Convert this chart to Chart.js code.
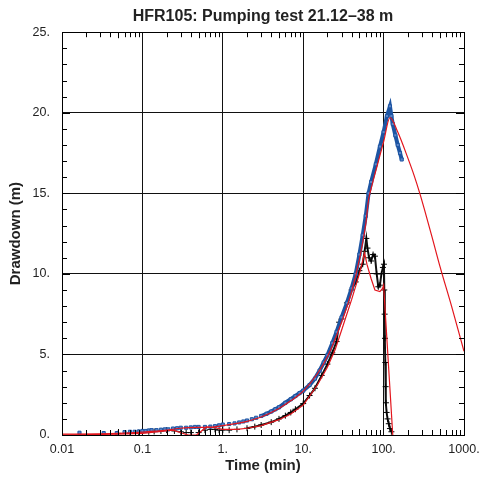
<!DOCTYPE html>
<html>
<head>
<meta charset="utf-8">
<script src="https://cdn.jsdelivr.net/npm/chart.js@4.4.1/dist/chart.umd.min.js"></script>
<style>
  html, body { margin: 0; padding: 0; background: #fff; }
  #wrap { width: 479px; height: 479px; }
</style>
</head>
<body>
<div id="wrap"><canvas id="hfrChart"></canvas></div>
<script>
// pumping test data (time in min, drawdown in m)
const blueTime = [0.0165, 0.033, 0.048, 0.06, 0.07, 0.08, 0.09, 0.1, 0.11, 0.12, 0.13, 0.15, 0.17, 0.19, 0.21, 0.24, 0.27, 0.3, 0.35, 0.4, 0.45, 0.5, 0.6, 0.7, 0.8, 0.9, 1.0, 1.2, 1.4, 1.6, 1.8, 2.0, 2.3, 2.6, 3.0, 3.5, 4.0, 4.5, 5, 6, 7, 8, 9, 10, 12, 14, 16, 18, 20, 23, 26, 30, 35, 40, 45, 50, 55, 60, 65, 70, 80, 90, 100, 110, 120, 125, 130, 140, 150, 160, 168];
const blueDrawdown = [0.14, 0.12, 0.12, 0.18, 0.2, 0.2, 0.22, 0.25, 0.25, 0.28, 0.3, 0.3, 0.33, 0.35, 0.35, 0.4, 0.42, 0.45, 0.45, 0.47, 0.5, 0.5, 0.5, 0.52, 0.55, 0.6, 0.65, 0.68, 0.72, 0.78, 0.84, 0.9, 0.98, 1.07, 1.18, 1.32, 1.46, 1.6, 1.72, 2.0, 2.22, 2.42, 2.6, 2.75, 3.1, 3.5, 4.0, 4.5, 4.95, 5.7, 6.4, 7.3, 8.2, 9.1, 10.0, 11.2, 12.4, 13.6, 15.0, 15.7, 16.8, 17.9, 18.8, 19.8, 20.4, 19.8, 19.3, 18.6, 18.0, 17.5, 17.1];

const blackTime = [0.05, 0.07, 0.09, 0.1, 0.12, 0.14, 0.17, 0.2, 0.25, 0.3, 0.35, 0.4, 0.5, 0.6, 0.7, 0.8, 0.9, 1.0, 1.2, 1.5, 2, 2.5, 3, 4, 5, 6, 7, 8, 10, 12, 14, 17, 20, 23, 26, 28, 30, 35, 40, 45, 50, 55, 58, 61, 63, 66, 70, 74, 78, 82, 86, 90, 94, 98, 101, 102, 103, 104, 105, 106, 107, 109, 112, 116, 120, 125];
const blackDrawdown = [0.1, 0.12, 0.15, 0.2, 0.2, 0.22, 0.25, 0.3, 0.25, 0.2, 0.15, 0.15, 0.15, 0.3, 0.35, 0.35, 0.3, 0.3, 0.3, 0.35, 0.42, 0.52, 0.62, 0.8, 1.0, 1.2, 1.4, 1.6, 1.95, 2.45, 2.9, 3.7, 4.4, 5.1, 5.8, 7.0, 7.2, 8.2, 9.0, 9.5, 10.2, 10.6, 11.4, 12.2, 11.6, 11.0, 10.8, 11.2, 11.1, 10.0, 9.2, 9.3, 10.0, 10.4, 10.6, 9.0, 7.5, 6.0, 4.5, 3.0, 2.0, 1.4, 1.0, 0.7, 0.4, 0.2];

const fitATime = [0.01, 0.03, 0.05, 0.1, 0.2, 0.3, 0.5, 0.7, 1, 1.5, 2, 3, 5, 7, 10, 15, 20, 30, 40, 50, 60, 65, 70, 80, 100, 120, 150, 200, 240, 282, 320, 400, 500, 700, 1000];
const fitAValues = [0.05, 0.07, 0.1, 0.18, 0.3, 0.42, 0.47, 0.48, 0.58, 0.72, 0.85, 1.12, 1.65, 2.12, 2.72, 3.8, 4.85, 7.0, 8.9, 10.9, 13.1, 14.6, 15.3, 16.4, 18.2, 19.7, 18.8, 17.2, 16.1, 15.0, 14.05, 12.3, 10.5, 8.0, 5.2];

const fitBTime = [0.01, 0.05, 0.1, 0.24, 0.37, 0.47, 0.63, 0.8, 1, 1.5, 2, 3, 5, 7, 10, 15, 20, 25, 30, 40, 50, 58, 62, 70, 78, 90, 97, 100, 130];
const fitBValues = [0.0, 0.05, 0.1, 0.3, 0.0, 0.0, 0.5, 0.45, 0.35, 0.35, 0.42, 0.58, 0.95, 1.3, 1.85, 3.1, 4.2, 5.3, 6.5, 8.4, 10.0, 11.3, 10.6, 9.7, 9.0, 8.9, 9.1, 9.3, 0.0];

const xTickValues = [0.01, 0.1, 1, 10, 100, 1000];
const xTickLabels = ['0.01', '0.1', '1.', '10.', '100.', '1000.'];
const yTickLabels = ['0.', '5.', '10.', '15.', '20.', '25.'];

const toPoints = (xs, ys) => xs.map((x, i) => ({ x: x, y: ys[i] }));

const red = '#e3161d';
const blue = '#1d55a3';

// inward minor ticks and the plot frame
const frameTicks = {
  id: 'frameTicks',
  afterDraw(chart) {
    const { ctx, chartArea: a, scales: { x, y } } = chart;
    ctx.save();
    ctx.strokeStyle = '#000';
    ctx.lineWidth = 1;
    ctx.beginPath();
    for (let d = 0.01; d < 1000; d *= 10) {
      for (let k = 2; k <= 9; k++) {
        const px = Math.round(x.getPixelForValue(k * d)) + 0.5;
        const len = k === 5 ? 6 : 5;
        ctx.moveTo(px, a.bottom); ctx.lineTo(px, a.bottom - len);
        ctx.moveTo(px, a.top); ctx.lineTo(px, a.top + len);
      }
    }
    for (let v = 1; v < 25; v++) {
      const py = Math.round(y.getPixelForValue(v)) + 0.5;
      const len = v % 5 === 0 ? 8 : 5;
      ctx.moveTo(a.left, py); ctx.lineTo(a.left + len, py);
      ctx.moveTo(a.right, py); ctx.lineTo(a.right - len, py);
    }
    ctx.stroke();
    ctx.strokeRect(Math.round(a.left) + 0.5, Math.round(a.top) + 0.5,
      Math.round(a.right - a.left), Math.round(a.bottom - a.top));
    ctx.restore();
  }
};

new Chart(document.getElementById('hfrChart'), {
  type: 'scatter',
  data: {
    datasets: [
      {
        label: 'Fit drawdown',
        data: toPoints(fitATime, fitAValues),
        showLine: true,
        borderColor: red,
        borderWidth: 1.2,
        pointRadius: 0,
        cubicInterpolationMode: 'monotone'
      },
      {
        label: 'Fit observation',
        data: toPoints(fitBTime, fitBValues),
        showLine: true,
        borderColor: red,
        borderWidth: 1.2,
        pointRadius: 0
      },
      {
        label: 'Drawdown',
        data: toPoints(blueTime, blueDrawdown),
        showLine: true,
        borderColor: blue,
        borderWidth: 4,
        segment: {
          borderColor: c => c.p0.parsed.x < 3 ? 'rgba(0,0,0,0)' : blue
        },
        pointStyle: 'rect',
        pointRadius: 2.2,
        pointBorderWidth: 1,
        pointBorderColor: blue,
        pointBackgroundColor: '#5b86c8'
      },
      {
        label: 'Observation',
        data: toPoints(blackTime, blackDrawdown),
        showLine: true,
        borderColor: '#000',
        borderWidth: 2,
        segment: {
          borderColor: c => c.p0.parsed.x < 2 ? 'rgba(0,0,0,0)' : '#111'
        },
        pointStyle: 'cross',
        pointRadius: 3,
        pointBorderWidth: 1,
        pointBorderColor: '#000'
      }
    ]
  },
  options: {
    responsive: true,
    maintainAspectRatio: false,
    animation: false,
    layout: { padding: { left: 0, right: 15, top: 0, bottom: 0 } },
    plugins: {
      legend: { display: false },
      tooltip: { enabled: false },
      title: {
        display: true,
        fullSize: false,
        text: 'HFR105: Pumping test 21.12–38 m',
        color: '#222',
        font: { family: 'Liberation Sans', size: 16, weight: 'bold', lineHeight: 1.2 },
        padding: { top: 7, bottom: 6 }
      }
    },
    scales: {
      x: {
        type: 'logarithmic',
        min: 0.01,
        max: 1000,
        afterBuildTicks: s => { s.ticks = xTickValues.map(v => ({ value: v })); },
        afterFit: s => { s.height = 44; s.paddingLeft = 0; s.paddingRight = 0; },
        ticks: {
          autoSkip: false,
          maxRotation: 0,
          padding: 7,
          color: '#222',
          font: { family: 'Liberation Sans', size: 12.5 },
          callback: (v, i) => xTickLabels[i]
        },
        grid: { color: '#111', lineWidth: 1, drawTicks: false },
        border: { display: false },
        title: {
          display: true,
          text: 'Time (min)',
          color: '#222',
          font: { family: 'Liberation Sans', size: 15, weight: 'bold', lineHeight: 1.2 },
          padding: { top: 0, bottom: 4 }
        }
      },
      y: {
        min: 0,
        max: 25,
        afterFit: s => { s.width = 62; },
        ticks: {
          stepSize: 5,
          padding: 12,
          color: '#222',
          font: { family: 'Liberation Sans', size: 12.5 },
          callback: (v, i) => yTickLabels[i]
        },
        grid: { color: '#111', lineWidth: 1, drawTicks: false },
        border: { display: false },
        title: {
          display: true,
          text: 'Drawdown (m)',
          color: '#222',
          font: { family: 'Liberation Sans', size: 15, weight: 'bold', lineHeight: 1.2 },
          padding: { top: 7, bottom: 0 }
        }
      }
    }
  },
  plugins: [frameTicks]
});
</script>
</body>
</html>
